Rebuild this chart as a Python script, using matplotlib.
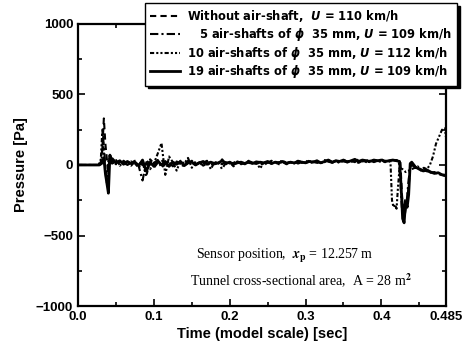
import numpy as np
import matplotlib
matplotlib.use("Agg")
import matplotlib.pyplot as plt

plt.rcParams['font.family'] = ['Liberation Sans', 'DejaVu Sans']
plt.rcParams['font.weight'] = 'bold'
plt.rcParams['mathtext.fontset'] = 'custom'
plt.rcParams['mathtext.it'] = 'DejaVu Sans:bold:italic'
plt.rcParams['mathtext.rm'] = 'DejaVu Sans:bold'

# ---------------- data ----------------
t_mid = [round(0.045 + 0.005 * i, 3) for i in range(75)]

solid_start_t = [0.0, 0.028, 0.031, 0.034, 0.036, 0.038, 0.040, 0.042, 0.044]
solid_start_p = [0, 0, 10, 50, -60, -130, -200, 70, 20]
solid_mid_p = [45, 15, 30, 5, 25, 10, 20, -5, 35, -45, 20, -10, 30, 0, 25,
               -10, 20, 5, 25, -5, 15, 20, 0, 15, 25, 5, 20, 10, 15, 30,
               10, 20, 5, 15, 20, 10, 25, 15, 10, 20, 15, 25, 10, 20, 15,
               25, 10, 20, 15, 25, 20, 15, 25, 20, 30, 15, 25, 35, 20, 30,
               25, 35, 20, 30, 40, 25, 35, 30, 25, 35, 30, 35, 25, 30, 35]
solid_end_t = [0.420, 0.424, 0.426, 0.428, 0.430, 0.432, 0.434, 0.436, 0.438, 0.440,
               0.445, 0.450, 0.455, 0.460, 0.465, 0.470, 0.475, 0.480, 0.485]
solid_end_p = [30, 25, -150, -380, -410, -260, -300, -210, 10, 20,
               -15, -30, -40, -35, -50, -60, -55, -70, -75]

dash_start_t = [0.0, 0.028, 0.030, 0.032, 0.034, 0.036, 0.038, 0.040, 0.042, 0.044]
dash_start_p = [0, 0, 20, 120, 330, 150, 40, -60, 80, 30]
dash_mid_p = [20, 35, 0, 30, 10, -5, 25, 15, 0, 30, 10, -20, 15, 35, 5,
              20, -10, 25, 10, 0, 30, 15, 5, 20, 10, 25, 0, 15, 20, 5,
              25, 10, 15, 30, 5, 20, 15, 10, 25, 20, 5, 15, 30, 10, 20,
              25, 15, 20, 10, 30, 20, 15, 25, 30, 15, 20, 35, 25, 15, 30,
              20, 35, 25, 30, 20, 40, 25, 30, 35, 20, 30, 40, 25, 30, 35]
dash_end_t = [0.420, 0.425, 0.427, 0.429, 0.431, 0.433, 0.436, 0.438, 0.441, 0.445,
              0.450, 0.455, 0.460, 0.465, 0.470, 0.475, 0.480, 0.485]
dash_end_p = [35, 30, -200, -330, -350, -280, -150, -20, 10, -20,
              -25, -45, -40, -55, -50, -65, -70, -80]

dd_start_t = [0.0, 0.028, 0.031, 0.033, 0.035, 0.037, 0.039, 0.041, 0.043]
dd_start_p = [0, 0, 30, 200, 60, -100, -150, 50, 15]
dd_mid_p = [10, 25, -5, 20, 0, 15, 30, -10, -110, 20, -30, 15, 35, -20, 10,
            25, -15, 20, 5, -10, 15, 30, 0, 20, -5, 10, 25, 5, 15, -30,
            20, 10, 0, 25, 15, 5, 20, 10, 25, 15, -5, 20, 10, 15, 30,
            20, 5, 15, 25, 10, 20, 30, 15, 25, 20, 10, 30, 25, 15, 20,
            30, 25, 20, 35, 25, 15, 30, 25, 20, 35, 30, 25, 20, 30, 35]
dd_end_t = [0.420, 0.423, 0.425, 0.427, 0.429, 0.431, 0.433, 0.436, 0.439, 0.443,
            0.450, 0.455, 0.460, 0.465, 0.470, 0.475, 0.480, 0.485]
dd_end_p = [30, 25, -120, -300, -340, -250, -280, -100, 0, -10,
            -25, -35, -45, -50, -55, -60, -70, -70]

dot_start_t = [0.0, 0.027, 0.030, 0.032, 0.034, 0.036, 0.038, 0.040, 0.043]
dot_start_p = [0, 0, 40, 250, 80, -40, -100, 30, 60]
dot_mid_p = [30, 5, 20, 15, 0, 25, 10, -20, 20, -80, 40, 10, 80, 155, -70,
             60, 20, -40, 30, 10, 50, -20, 25, 0, 15, 30, -30, 20, 10, 40,
             5, 20, -10, 25, 15, 5, 30, 10, 20, -25, 15, 25, 10, 20, 5,
             30, 15, 20, 10, 25, 15, 20, 30, 10, 25, 15, 20, 35, 20, 25,
             15, 30, 25, 20, 30, 25, 35, 20, 30, 25, 30, 20, 30, 25, 30]
dot_end_t = [0.412, 0.414, 0.416, 0.418, 0.420, 0.422, 0.424, 0.428, 0.432, 0.436,
             0.440, 0.444, 0.448, 0.452, 0.456, 0.460, 0.464, 0.468, 0.472, 0.476,
             0.480, 0.484, 0.485]
dot_end_p = [20, -250, -300, -280, -310, -150, -20, -30, -50, -40,
             -30, -20, -10, -40, -20, -30, 0, 60, 150, 200,
             250, 260, 200]

labels = ["Without air-shaft,  $U$ = 110 km/h",
          "   5 air-shafts of $\\phi$  35 mm, $U$ = 109 km/h",
          "10 air-shafts of $\\phi$  35 mm, $U$ = 112 km/h",
          "19 air-shafts of $\\phi$  35 mm, $U$ = 109 km/h"]

x_ticks = [0.0, 0.1, 0.2, 0.3, 0.4, 0.485]
x_ticklabels = ["0.0", "0.1", "0.2", "0.3", "0.4", "0.485"]
y_ticks = [-1000, -500, 0, 500, 1000]


def assemble(st, sp, mp, et, ep, cut):
    tm = [t for t in t_mid if t < cut]
    pm = mp[:len(tm)]
    return np.array(st + tm + et), np.array(sp + pm + ep)


fig = plt.figure(figsize=(4.62, 3.51), dpi=100)
ax = fig.add_axes([0.169, 0.128, 0.796, 0.804])

lw = 1.5
x, y = assemble(dash_start_t, dash_start_p, dash_mid_p, dash_end_t, dash_end_p, 0.418)
l1, = ax.plot(x, y, color='black', lw=lw, ls=(0, (3, 2)))
x, y = assemble(dd_start_t, dd_start_p, dd_mid_p, dd_end_t, dd_end_p, 0.418)
l2, = ax.plot(x, y, color='black', lw=lw, ls=(0, (4, 1.5, 1, 1.5)))
x, y = assemble(dot_start_t, dot_start_p, dot_mid_p, dot_end_t, dot_end_p, 0.411)
l3, = ax.plot(x, y, color='black', lw=lw, ls=(0, (2, 1, 1, 1, 1, 1)))
x, y = assemble(solid_start_t, solid_start_p, solid_mid_p, solid_end_t, solid_end_p, 0.418)
l4, = ax.plot(x, y, color='black', lw=2.0, ls='-')

ax.set_xlim(0, 0.485)
ax.set_ylim(-1000, 1000)
ax.set_xticks(x_ticks)
ax.set_xticklabels(x_ticklabels)
ax.set_yticks(y_ticks)
ax.set_xticks([0.05, 0.15, 0.25, 0.35, 0.45], minor=True)
ax.set_yticks([-750, -250, 250, 750], minor=True)
ax.tick_params(which='both', direction='in', top=True, right=True, labelsize=9.5, width=1.2)
ax.tick_params(which='major', length=5)
ax.tick_params(which='minor', length=3)
for s in ax.spines.values():
    s.set_linewidth(1.6)

ax.set_xlabel("Time (model scale) [sec]", fontsize=10.5, fontweight='bold', labelpad=3)
ax.set_ylabel("Pressure [Pa]", fontsize=10.5, fontweight='bold', labelpad=6)

ax.text(0.156, -645, "Sensor position,  $x_{\\rm p}$ = 12.257 m",
        family='Liberation Serif', fontweight='normal', fontsize=10, va='center', math_fontfamily='stix')
ax.text(0.148, -823, "Tunnel cross-sectional area,  A = 28 m$^2$",
        family='Liberation Serif', fontweight='normal', fontsize=10, va='center', math_fontfamily='stix')

leg = fig.legend([l1, l2, l3, l4], labels, loc='upper right',
                 bbox_to_anchor=(457 / 462, 1 - 3 / 351), borderaxespad=0,
                 prop={'family': 'DejaVu Sans', 'weight': 'bold', 'size': 8.3},
                 frameon=True, fancybox=False, edgecolor='black',
                 shadow={'color': 'black', 'alpha': 1}, handlelength=2.6,
                 handletextpad=0.6, labelspacing=0.15, borderpad=0.45)
leg.get_frame().set_linewidth(1.0)
leg.get_frame().set_alpha(1)

fig.savefig("out.png", dpi=100)
